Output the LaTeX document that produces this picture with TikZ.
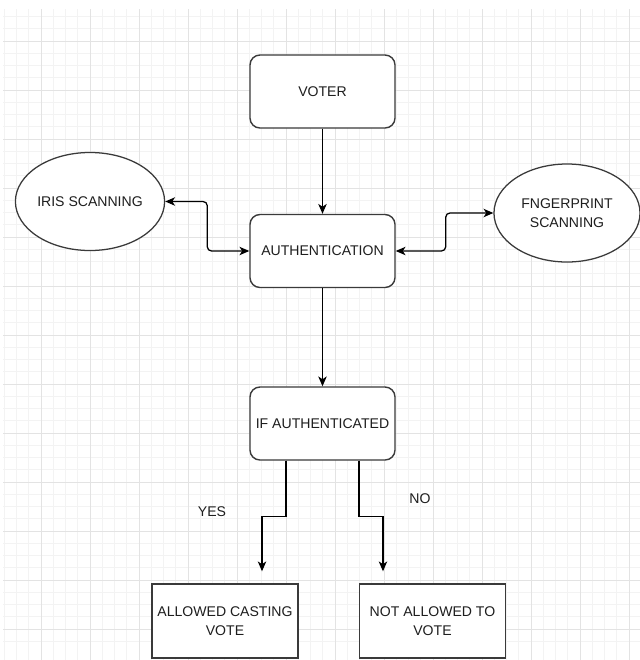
\documentclass[tikz,border=0pt]{standalone}
\usepackage{fontspec}
\setmainfont{Liberation Sans}
\usetikzlibrary{arrows.meta,shapes.geometric}

\definecolor{gridminor}{HTML}{F3F3F3}
\definecolor{gridmajor}{HTML}{E3E3E3}
\definecolor{edge}{HTML}{3A3A3A}
\definecolor{ink}{HTML}{1E1E1E}

\begin{document}
\begin{tikzpicture}[x=0.025cm,y=-0.025cm,
  every node/.style={font=\fontsize{10}{13.5}\selectfont, text=ink, align=center},
  rbox/.style={draw=edge, line width=1pt, fill=white, rounded corners=0.25cm,
    minimum width=3.625cm, minimum height=1.825cm, inner sep=0pt},
  sbox/.style={draw=edge, line width=1pt, fill=white,
    minimum width=3.65cm, minimum height=1.85cm, inner sep=0pt},
  oval/.style={draw=edge, line width=0.9pt, fill=white, ellipse,
    minimum width=3.65cm, minimum height=2.45cm, inner sep=0pt},
  arr/.style={draw=black, line width=0.9pt, -{Stealth[length=7pt,width=6pt,inset=2pt]}},
  dbl/.style={arr, {Stealth[length=7pt,width=6pt,inset=2pt]}-{Stealth[length=7pt,width=6pt,inset=2pt]}, rounded corners=3pt}]
\useasboundingbox (0,0) rectangle (640,660);
\fill[white] (0,0) rectangle (640,660);
% background grid
\begin{scope}
\clip (3,9) rectangle (640,660);
\foreach \i in {0,...,52} {
  \draw[gridminor, line width=0.5pt] ({4.25+12.25*\i},9) -- ({4.25+12.25*\i},660);
  \draw[gridminor, line width=0.5pt] (3,{4.25+12.25*\i}) -- (640,{4.25+12.25*\i});
}
\foreach \i in {0,...,13} {
  \draw[gridmajor, line width=0.6pt] ({41+49*\i},9) -- ({41+49*\i},660);
  \draw[gridmajor, line width=0.6pt] (3,{41+49*\i}) -- (640,{41+49*\i});
}
\end{scope}

% nodes
\node[rbox] (voter) at (322.5,91.5) {VOTER};
\node[rbox] (auth) at (322.5,251) {AUTHENTICATION};
\node[rbox] (ifauth) at (322.5,423.5) {IF AUTHENTICATED};
\node[oval] (iris) at (90,201.5) {IRIS SCANNING};
\node[oval] (finger) at (567,213) {FNGERPRINT\\SCANNING};
\node[sbox] (allowed) at (225,621) {ALLOWED CASTING\\VOTE};
\node[sbox] (notallowed) at (432.5,621) {NOT ALLOWED TO\\VOTE};
\node (yes) at (212,512) {YES};
\node (no) at (420,499) {NO};

% connectors
\draw[arr] (voter) -- (auth);
\draw[dbl] (auth.west) -- ++(-42,0) |- (iris.east);
\draw[dbl] (auth.east) -- ++(50,0) |- (finger.west);
\draw[arr] (auth) -- (ifauth);
\draw[arr, shorten >=0.3cm] ([xshift=-0.9125cm]ifauth.south) -- ++(0,56) -| ([xshift=0.925cm]allowed.north);
\draw[arr, shorten >=0.3cm] ([xshift=0.9125cm]ifauth.south) -- ++(0,56) -| ([xshift=-1.2375cm]notallowed.north);
\end{tikzpicture}
\end{document}
